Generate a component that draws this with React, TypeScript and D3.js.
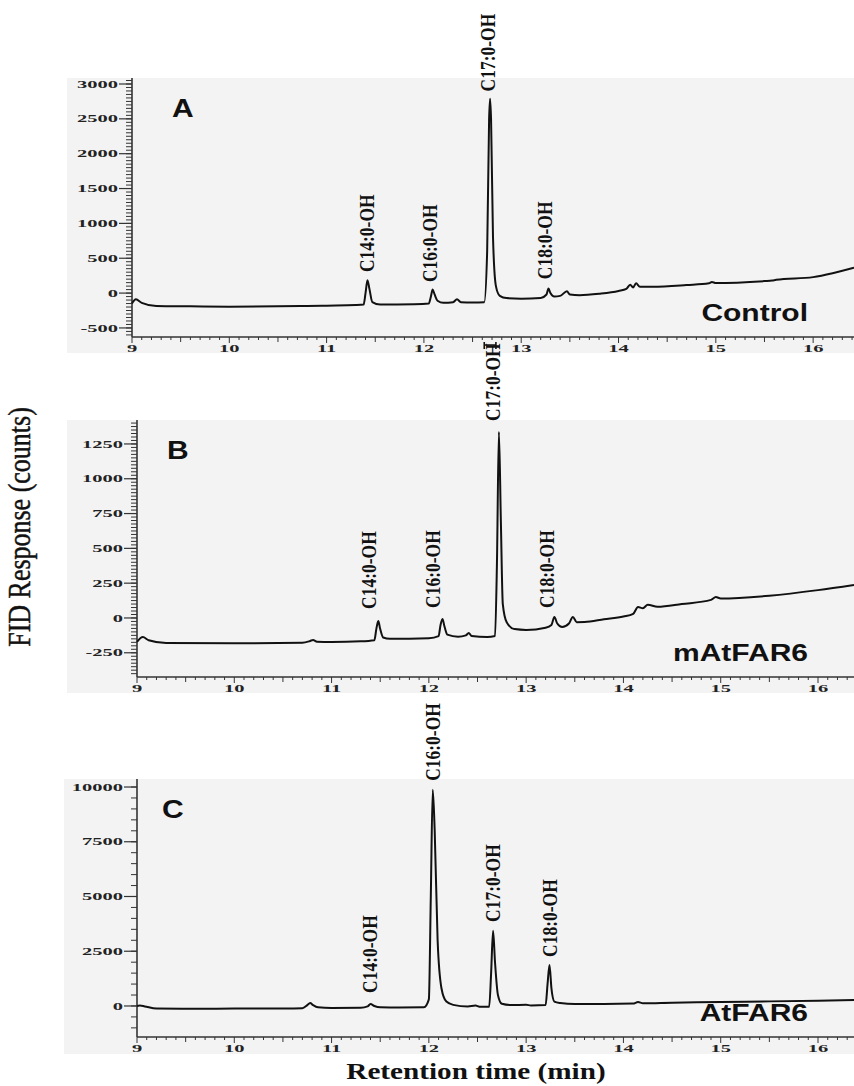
import React from "react";
import * as d3 from "d3";

// ---------- DATA ----------
// Panel A (Control)
const timeA = [9.0, 9.04, 9.1, 9.25, 9.6, 10.0, 10.5, 10.8, 11.0, 11.3, 11.38, 11.4, 11.42, 11.44, 11.47, 11.55, 11.9, 12.05, 12.07, 12.09, 12.11, 12.14, 12.2, 12.3, 12.34, 12.38, 12.5, 12.62, 12.65, 12.67, 12.68, 12.69, 12.71, 12.74, 12.78, 12.85, 13.0, 13.2, 13.26, 13.28, 13.3, 13.34, 13.4, 13.47, 13.5, 13.6, 13.8, 14.0, 14.08, 14.12, 14.15, 14.18, 14.22, 14.35, 14.7, 14.93, 14.96, 15.0, 15.5, 15.58, 15.62, 16.0, 16.2, 16.42];
const valueA = [-150, -90, -140, -185, -190, -195, -190, -185, -180, -172, -165, 0, 186, 60, -130, -165, -160, -150, -60, 50, -20, -110, -140, -130, -90, -130, -135, -130, 600, 2500, 2790, 2500, 800, 100, -40, -72, -80, -70, -20, 65, 0, -50, -40, 25, -20, -30, -10, 30, 60, 120, 80, 140, 90, 90, 115, 140, 160, 143, 172, 180, 190, 229, 285, 365];
const labelTimeA = [11.41, 12.06, 12.66, 13.24];
const labelValueA = [301, 158, 2894, 200];
const labelNameA = ["C14:0-OH", "C16:0-OH", "C17:0-OH", "C18:0-OH"];
const bracketA = [12.62, 12.74];

// Panel B (mAtFAR6)
const timeB = [9.0, 9.06, 9.12, 9.3, 10.0, 10.7, 10.78, 10.81, 10.85, 11.0, 11.3, 11.44, 11.46, 11.48, 11.5, 11.53, 11.6, 12.0, 12.1, 12.12, 12.14, 12.16, 12.19, 12.3, 12.38, 12.41, 12.44, 12.6, 12.68, 12.7, 12.72, 12.74, 12.76, 12.8, 12.88, 13.0, 13.2, 13.26, 13.29, 13.32, 13.37, 13.44, 13.48, 13.52, 13.6, 13.8, 14.0, 14.1, 14.15, 14.2, 14.25, 14.35, 14.6, 14.9, 14.95, 15.0, 15.5, 16.0, 16.37];
const valueB = [-172, -137, -160, -180, -182, -178, -165, -158, -170, -172, -168, -160, -80, -22, -80, -140, -150, -145, -130, -50, -7, -60, -120, -135, -125, -108, -130, -137, -130, 400, 1336, 700, 100, -30, -80, -86, -70, -50, 7, -40, -65, -40, 7, -30, -29, -10, 10, 30, 79, 70, 95, 80, 100, 130, 150, 140, 160, 200, 237];
const labelTimeB = [11.38, 12.04, 12.66, 13.21];
const labelValueB = [65, 72, 1415, 72];
const labelNameB = ["C14:0-OH", "C16:0-OH", "C17:0-OH", "C18:0-OH"];

// Panel C (AtFAR6)
const timeC = [9.0, 9.03, 9.08, 9.2, 9.6, 10.0, 10.5, 10.7, 10.75, 10.78, 10.81, 10.86, 11.0, 11.3, 11.37, 11.4, 11.44, 11.5, 11.7, 11.95, 12.0, 12.02, 12.04, 12.06, 12.09, 12.13, 12.18, 12.25, 12.4, 12.48, 12.52, 12.62, 12.64, 12.66, 12.68, 12.71, 12.75, 12.85, 13.0, 13.05, 13.2, 13.22, 13.24, 13.26, 13.29, 13.35, 13.5, 13.8, 14.1, 14.15, 14.2, 14.5, 15.0, 15.5, 16.0, 16.37];
const valueC = [0, 20, -20, -120, -130, -115, -110, -100, 40, 137, 40, -60, -90, -80, -20, 90, 0, -60, -70, -60, 300, 5000, 9870, 8000, 3000, 800, 200, 50, -20, 20, -30, -40, 1500, 3430, 2000, 500, 100, 40, 60, 20, 40, 1000, 1870, 800, 200, 137, 90, 90, 110, 180, 120, 150, 180, 210, 240, 274];
const labelTimeC = [11.39, 12.04, 12.66, 13.24];
const labelValueC = [594, 10283, 3839, 2240];
const labelNameC = ["C14:0-OH", "C16:0-OH", "C17:0-OH", "C18:0-OH"];

const xTickValues = [9, 10, 11, 12, 13, 14, 15, 16];
const yTicksA = [-500, 0, 500, 1000, 1500, 2000, 2500, 3000];
const yTicksB = [-250, 0, 250, 500, 750, 1000, 1250];
const yTicksC = [0, 2500, 5000, 7500, 10000];

const panelLetters = ["A", "B", "C"];
const sampleNames = ["Control", "mAtFAR6", "AtFAR6"];
const yAxisTitle = "FID Response  (counts)";
const xAxisTitle = "Retention time (min)";

// ---------- STYLE / LAYOUT ----------
const SERIF = "'Liberation Serif', 'Times New Roman', serif";
const SANS = "'Liberation Sans', Arial, sans-serif";
const BG = "#f3f3f3";
const AX = "#333";

type PanelProps = {
  times: number[];
  values: number[];
  xDomain: [number, number];
  xRange: [number, number];
  yDomain: [number, number];
  yRange: [number, number];
  yTicks: number[];
  yMinorStep: number;
  bg: { x: number; y0: number; y1: number };
  letter: string;
  letterX: number;
  name: string;
  labelTimes: number[];
  labelValues: number[];
  labelNames: string[];
  bracket?: number[];
};

function Panel(p: PanelProps) {
  const x = d3.scaleLinear().domain(p.xDomain).range(p.xRange);
  const y = d3.scaleLinear().domain(p.yDomain).range(p.yRange);
  const axisY = p.yRange[0];
  const axisX = p.xRange[0];
  const line = d3
    .line<number>()
    .x((_, i) => x(p.times[i]))
    .y((d) => y(d))
    .curve(d3.curveMonotoneX);
  const minor = d3.range(
    Math.ceil(p.yDomain[0] / p.yMinorStep) * p.yMinorStep,
    p.yDomain[1] + 1e-9,
    p.yMinorStep
  );
  const xMinor = d3.range(90, Math.floor(p.xDomain[1] * 10) + 1).map((v) => v / 10);
  return (
    <g>
      <rect x={p.bg.x} y={p.bg.y0} width={854 - p.bg.x} height={p.bg.y1 - p.bg.y0} fill={BG} />
      {/* y axis */}
      <line x1={axisX} x2={axisX} y1={p.yRange[1]} y2={axisY} stroke={AX} strokeWidth={1.6} />
      {minor.map((v, i) => (
        <line key={"ym" + i} x1={axisX - 6} x2={axisX} y1={y(v)} y2={y(v)} stroke={AX} strokeWidth={1} />
      ))}
      {p.yTicks.map((v) => (
        <g key={"yt" + v}>
          <line x1={axisX - 13} x2={axisX} y1={y(v)} y2={y(v)} stroke={AX} strokeWidth={1.2} />
          <text
            transform={`translate(${axisX - 14},${y(v) + 3.6}) scale(1.95,1)`}
            textAnchor="end"
            fontFamily={SERIF}
            fontWeight="bold"
            fontSize={10.5}
            fill="#222"
          >
            {String(v)}
          </text>
        </g>
      ))}
      {/* x axis */}
      <line x1={axisX} x2={854} y1={axisY} y2={axisY} stroke={AX} strokeWidth={1.6} />
      {xMinor.map((t, i) => {
        const tenths = Math.round(t * 10) % 10;
        const len = tenths === 0 ? 6 : tenths === 5 ? 5 : 3;
        return <line key={"xm" + i} x1={x(t)} x2={x(t)} y1={axisY} y2={axisY + len} stroke={AX} strokeWidth={1} />;
      })}
      {xTickValues.map((t) => (
        <text
          key={"xt" + t}
          transform={`translate(${x(t)},${axisY + 15}) scale(1.95,1)`}
          textAnchor="middle"
          fontFamily={SERIF}
          fontWeight="bold"
          fontSize={10.5}
          fill="#222"
        >
          {String(t)}
        </text>
      ))}
      {p.bracket && (
        <path
          d={`M${x(p.bracket[0])},${axisY + 5}V${axisY + 12}M${x(p.bracket[0])},${axisY + 8}H${x(p.bracket[1])}M${x(p.bracket[1])},${axisY + 5}V${axisY + 12}`}
          stroke="#111"
          strokeWidth={1.6}
          fill="none"
        />
      )}
      {/* trace */}
      <path d={line(p.values) || ""} fill="none" stroke="#111" strokeWidth={2} strokeLinejoin="round" />
      {/* peak labels */}
      {p.labelNames.map((n, i) => (
        <text
          key={"pl" + i}
          transform={`translate(${x(p.labelTimes[i])},${y(p.labelValues[i])}) rotate(-90) scale(1,1.2)`}
          dy="0.35em"
          textAnchor="start"
          fontFamily={SERIF}
          fontWeight="bold"
          fontSize={17.5}
          fill="#111"
        >
          {n}
        </text>
      ))}
      {/* panel letter */}
      <text
        transform={`translate(${p.letterX},${p.yRange[1] + 39}) scale(1.2,1)`}
        fontFamily={SANS}
        fontWeight="bold"
        fontSize={25}
        fill="#111"
      >
        {p.letter}
      </text>
      <text
        transform={`translate(808,${axisY - 16}) scale(1.25,1)`}
        textAnchor="end"
        fontFamily={SANS}
        fontWeight="bold"
        fontSize={24}
        fill="#111"
      >
        {p.name}
      </text>
    </g>
  );
}

export default function App() {
  return (
    <svg
      width={854}
      height={1086}
      style={{ position: "absolute", left: 0, top: 0, background: "#fff" }}
    >
      <Panel
        times={timeA}
        values={valueA}
        xDomain={[9, 16.42]}
        xRange={[132, 854]}
        yDomain={[-630, 3086]}
        yRange={[337, 78]}
        yTicks={yTicksA}
        yMinorStep={50}
        bg={{ x: 67, y0: 78, y1: 353 }}
        letter={panelLetters[0]}
        letterX={172}
        name={sampleNames[0]}
        labelTimes={labelTimeA}
        labelValues={labelValueA}
        labelNames={labelNameA}
        bracket={bracketA}
      />
      <Panel
        times={timeB}
        values={valueB}
        xDomain={[9, 16.37]}
        xRange={[137, 854]}
        yDomain={[-424, 1422]}
        yRange={[677, 420]}
        yTicks={yTicksB}
        yMinorStep={25}
        bg={{ x: 67, y0: 420, y1: 693 }}
        letter={panelLetters[1]}
        letterX={167}
        name={sampleNames[1]}
        labelTimes={labelTimeB}
        labelValues={labelValueB}
        labelNames={labelNameB}
      />
      <Panel
        times={timeC}
        values={valueC}
        xDomain={[9, 16.37]}
        xRange={[137, 854]}
        yDomain={[-1417, 10366]}
        yRange={[1037, 779]}
        yTicks={yTicksC}
        yMinorStep={500}
        bg={{ x: 64, y0: 779, y1: 1054 }}
        letter={panelLetters[2]}
        letterX={162}
        name={sampleNames[2]}
        labelTimes={labelTimeC}
        labelValues={labelValueC}
        labelNames={labelNameC}
      />
      <text
        transform={`translate(30,527) rotate(-90) scale(1,1.2)`}
        textAnchor="middle"
        fontFamily={SERIF}
        fontSize={26}
        fill="#111"
        stroke="#111"
        strokeWidth={0.4}
      >
        {yAxisTitle}
      </text>
      <text
        transform={`translate(476,1079) scale(1.27,1)`}
        textAnchor="middle"
        fontFamily={SERIF}
        fontWeight="bold"
        fontSize={23}
        fill="#111"
      >
        {xAxisTitle}
      </text>
    </svg>
  );
}
